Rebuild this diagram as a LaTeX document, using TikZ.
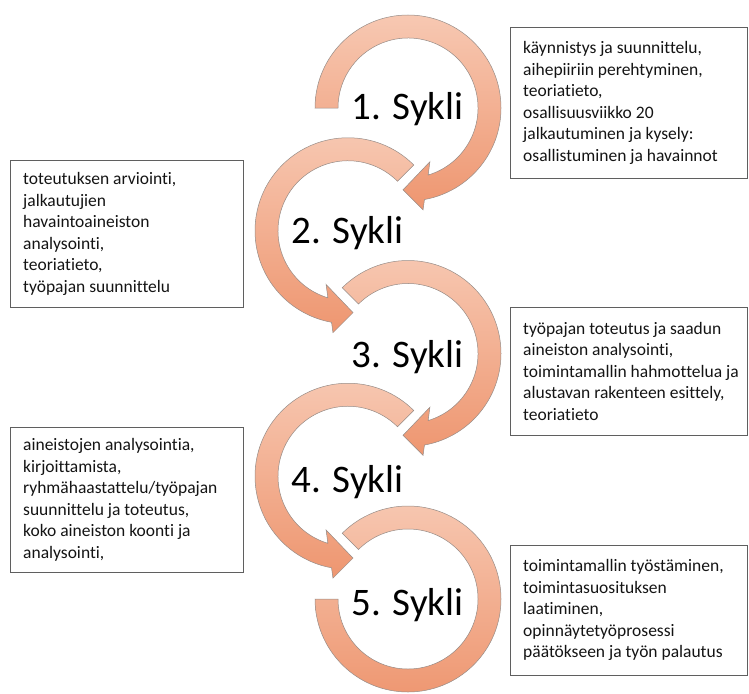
\documentclass[tikz,border=0pt]{standalone}
\usepackage{fontspec}
\usepackage{tikz}
\usetikzlibrary{positioning}
\setmainfont{Carlito}[Ligatures = NoCommon]
\definecolor{ArrowLight}{RGB}{247, 200, 178}
\definecolor{ArrowDark}{RGB}{238, 150, 112}
\definecolor{ArrowLine}{RGB}{150, 140, 135}
\definecolor{BoxLine}{RGB}{95, 95, 95}
\definecolor{BoxText}{RGB}{20, 20, 20}
\tikzset{
    ring arrow/.style = {
        draw         = ArrowLine,
        line width   = 0.5pt,
        top color    = ArrowLight,
        bottom color = ArrowDark,
    },
    infobox/.style = {
        draw       = BoxLine,
        line width = 0.8pt,
        anchor     = north west,
        inner sep  = 0pt,
    },
    infotext/.style = {
        anchor    = west,
        align     = left,
        inner sep = 0pt,
        text      = BoxText,
        font      = \fontsize{17.5}{21.5}\selectfont,
    },
}

\begin{document}
\begin{tikzpicture}[x = 1pt, y = 1pt]
    \useasboundingbox (0, 0) rectangle (749, -693);

    \coordinate (S1) at (408, -108);
    \coordinate (S2) at (348, -230.75);
    \coordinate (S3) at (408, -353.5);
    \coordinate (S4) at (348, -476.25);
    \coordinate (S5) at (408, -599);

    % clockwise arrows 1 and 3
    \begin{scope}[shift = {(S1)}]
        \draw[ring arrow]
            (180:93) arc[start angle = 180, end angle = -79.8, radius = 93]
            -- (-81.6:103) -- (-93.5:82) -- (-67.8:58) -- (-73.3:70)
            arc[start angle = -73.3, end angle = 180, radius = 70]
            -- cycle
        ;
    \end{scope}
    \begin{scope}[shift = {(S3)}]
        \draw[ring arrow]
            (135:93) arc[start angle = 135, end angle = -79.8, radius = 93]
            -- (-81.6:103) -- (-93.5:82) -- (-67.8:58) -- (-73.3:70)
            arc[start angle = -73.3, end angle = 135, radius = 70]
            -- cycle
        ;
    \end{scope}

    % counterclockwise arrows 2 and 4
    \begin{scope}[shift = {(S2)}]
        \draw[ring arrow]
            (45:93) arc[start angle = 45, end angle = 259.8, radius = 93]
            -- (261.6:103) -- (273.5:82) -- (247.8:58) -- (253.3:70)
            arc[start angle = 253.3, end angle = 45, radius = 70]
            -- cycle
        ;
    \end{scope}
    \begin{scope}[shift = {(S4)}]
        \draw[ring arrow]
            (45:93) arc[start angle = 45, end angle = 259.8, radius = 93]
            -- (261.6:103) -- (273.5:82) -- (247.8:58) -- (253.3:70)
            arc[start angle = 253.3, end angle = 45, radius = 70]
            -- cycle
        ;
    \end{scope}

    % last ring, no head
    \begin{scope}[shift = {(S5)}]
        \draw[ring arrow]
            (135:93) arc[start angle = 135, end angle = -180, radius = 93]
            -- (180:70)
            arc[start angle = -180, end angle = 135, radius = 70]
            -- cycle
        ;
    \end{scope}

    \begin{scope}[
        every node/.style = {
            anchor    = base,
            inner sep = 0pt,
            text      = black,
            font      = \fontsize{39}{46}\selectfont,
        }
    ]
        \node (L1) at (407.5, -119) {1. Sykli};
        \node (L2) at (347.5, -243) {2. Sykli};
        \node (L3) at (407.5, -367) {3. Sykli};
        \node (L4) at (347.5, -492) {4. Sykli};
        \node (L5) at (407.5, -615) {5. Sykli};
    \end{scope}

    \node[infobox, minimum width = 237, minimum height = 151] (B1) at (510, -27)  {};
    \node[infobox, minimum width = 233, minimum height = 147] (B2) at (10, -160)  {};
    \node[infobox, minimum width = 237, minimum height = 128] (B3) at (510, -307) {};
    \node[infobox, minimum width = 233, minimum height = 145] (B4) at (10, -427)  {};
    \node[infobox, minimum width = 237, minimum height = 130] (B5) at (510, -545) {};

    \node[infotext, right = 13pt of B1.west] (T1) {%
        käynnistys ja suunnittelu,\\
        aihepiiriin perehtyminen,\\
        teoriatieto,\\
        osallisuusviikko 20\\
        jalkautuminen ja kysely:\\
        osallistuminen ja havainnot};
    \node[infotext, right = 13pt of B2.west] (T2) {%
        toteutuksen arviointi,\\
        jalkautujien\\
        havaintoaineiston\\
        analysointi,\\
        teoriatieto,\\
        työpajan suunnittelu};
    \node[infotext, right = 13pt of B3.west] (T3) {%
        työpajan toteutus ja saadun\\
        aineiston analysointi,\\
        toimintamallin hahmottelua ja\\
        alustavan rakenteen esittely,\\
        teoriatieto};
    \node[infotext, right = 13pt of B4.west] (T4) {%
        aineistojen analysointia,\\
        kirjoittamista,\\
        ryhmähaastattelu/työpajan\\
        suunnittelu ja toteutus,\\
        koko aineiston koonti ja\\
        analysointi,};
    \node[infotext, right = 13pt of B5.west] (T5) {%
        toimintamallin työstäminen,\\
        toimintasuosituksen\\
        laatiminen,\\
        opinnäytetyöprosessi\\
        päätökseen ja työn palautus};
\end{tikzpicture}
\end{document}
